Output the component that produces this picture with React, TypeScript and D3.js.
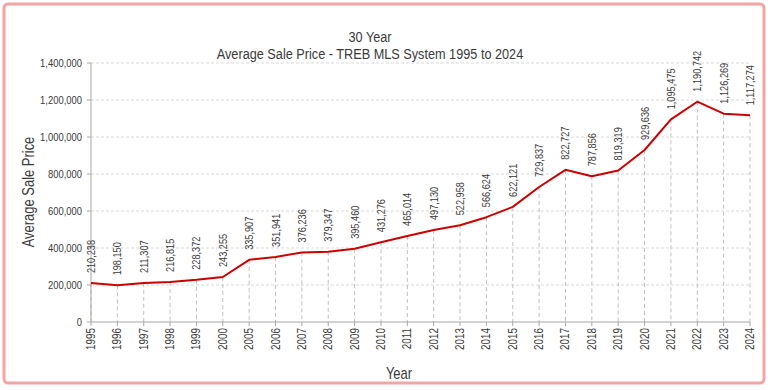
import React from 'react'
import * as d3 from 'd3'

const years = ['1995', '1996', '1997', '1998', '1999', '2000', '2005', '2006', '2007', '2008', '2009', '2010', '2011', '2012', '2013', '2014', '2015', '2016', '2017', '2018', '2019', '2020', '2021', '2022', '2023', '2024']
const prices = [210238, 198150, 211307, 216815, 228372, 243255, 335907, 351941, 376236, 379347, 395460, 431276, 465014, 497130, 522958, 566624, 622121, 729837, 822727, 787856, 819319, 929636, 1095475, 1190742, 1126269, 1117274]
const yTicks = [0, 200000, 400000, 600000, 800000, 1000000, 1200000, 1400000]

const W = 768
const H = 390
const FONT = '"Liberation Sans", Arial, sans-serif'
const TXT = '#3a3a3a'
const NARROW = 0.82 // fake Arial Narrow by squeezing Liberation Sans

// text squeezed along its own direction; rot = -90 for vertical text
const Narrow = ({ x, y, rot = 0, size, anchor = 'start', children }: any) =>
  <text transform={`translate(${x},${y}) rotate(${rot}) scale(${NARROW},1)`}
    textAnchor={anchor} fontSize={size} fill={TXT}>{children}</text>

export default function App() {
  const x = d3.scalePoint().domain(years).range([91, 750])
  const y = d3.scaleLinear().domain([0, 1400000]).range([322, 63])
  const fmt = d3.format(',')
  const pts = years.map((yr, i) => ({ yr, v: prices[i] }))
  const line = d3.line<{ yr: string, v: number }>().x(d => x(d.yr)!).y(d => y(d.v))

  return <svg width={W} height={H} style={{ position: 'absolute', left: 0, top: 0 }} fontFamily={FONT}>
    <rect x={0} y={0} width={W} height={H} fill="white" />
    <rect x={4} y={4} width={760} height={379} rx={4} fill="white" stroke="#f5a3a3" strokeWidth={3} />

    <Narrow x={370} y={42} size={15.5} anchor="middle">30 Year</Narrow>
    <Narrow x={370} y={59} size={15.5} anchor="middle">Average Sale Price - TREB MLS System 1995 to 2024</Narrow>

    {yTicks.map(t => <g key={t}>
      {t > 0 && <line x1={91} x2={750} y1={y(t)} y2={y(t)} stroke="#d9d9d9" strokeDasharray="3,2" />}
      <line x1={87} x2={91} y1={y(t)} y2={y(t)} stroke="#a6a6a6" />
      <Narrow x={82} y={y(t) + 4} size={11.5} anchor="end">{fmt(t)}</Narrow>
    </g>)}

    {pts.map(d => <line key={'v' + d.yr} x1={x(d.yr)} x2={x(d.yr)} y1={y(d.v)} y2={322}
      stroke="#bfbfbf" strokeDasharray="4,3" />)}

    <line x1={91} x2={91} y1={63} y2={322} stroke="#a6a6a6" />
    <line x1={91} x2={750} y1={322} y2={322} stroke="#a6a6a6" />
    {years.map(yr => <line key={'t' + yr} x1={x(yr)} x2={x(yr)} y1={322} y2={326} stroke="#a6a6a6" />)}

    <path d={line(pts)!} fill="none" stroke="#cc0000" strokeWidth={2} strokeLinejoin="round" />

    {pts.map(d => <Narrow key={'l' + d.yr} x={x(d.yr)! + 4} y={y(d.v) - 10} rot={-90} size={11.2}>{fmt(d.v)}</Narrow>)}

    {years.map(yr => <Narrow key={'x' + yr} x={x(yr)! + 4} y={328} rot={-90} size={12} anchor="end">{yr}</Narrow>)}

    <Narrow x={34} y={192} rot={-90} size={15.8} anchor="middle">Average Sale Price</Narrow>
    <Narrow x={399} y={379} size={15.8} anchor="middle">Year</Narrow>
  </svg>
}
